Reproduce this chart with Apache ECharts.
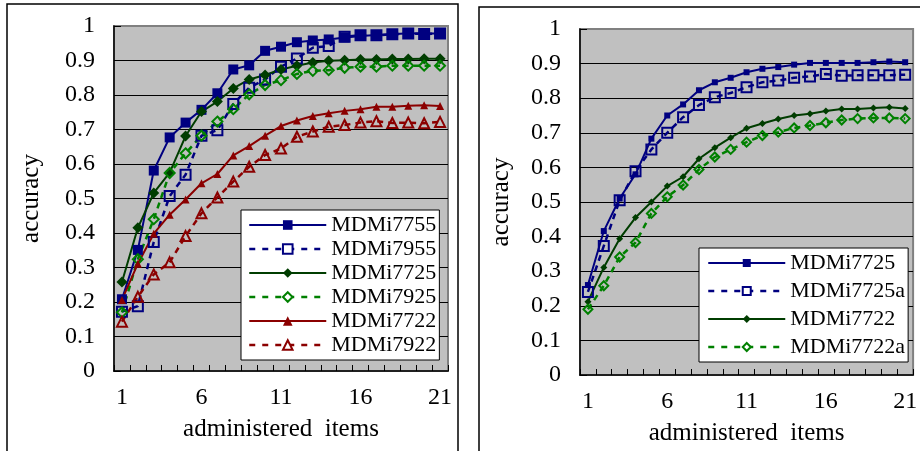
<!DOCTYPE html>
<html><head><meta charset="utf-8">
<script src="https://cdn.jsdelivr.net/npm/echarts@6/dist/echarts.min.js"></script>
<style>html,body{margin:0;padding:0;background:#fff}#c{width:920px;height:451px}</style>
</head><body><div id="c"></div>
<script>
const categories = ['1','2','3','4','5','6','7','8','9','10','11','12','13','14','15','16','17','18','19','20','21'];
const yTicks = [0,0.1,0.2,0.3,0.4,0.5,0.6,0.7,0.8,0.9,1];
// left panel
const m7755 = [0.208,0.351,0.581,0.677,0.720,0.757,0.805,0.874,0.886,0.928,0.940,0.953,0.958,0.961,0.967,0.971,0.974,0.976,0.979,0.978,0.978];
const m7955 = [0.172,0.188,0.374,0.507,0.569,0.682,0.698,0.774,0.821,0.845,0.882,0.906,0.937,0.942,0.969,0.973,0.973,0.976,0.978,0.977,0.978];
const m7725 = [0.258,0.415,0.516,0.575,0.681,0.752,0.781,0.819,0.845,0.858,0.874,0.885,0.894,0.899,0.901,0.903,0.903,0.904,0.904,0.905,0.905];
const m7925 = [0.170,0.324,0.440,0.574,0.631,0.682,0.723,0.759,0.802,0.829,0.843,0.861,0.870,0.872,0.879,0.882,0.882,0.885,0.885,0.885,0.885];
const m7722 = [0.206,0.311,0.398,0.453,0.497,0.544,0.571,0.625,0.652,0.682,0.710,0.726,0.739,0.747,0.754,0.759,0.766,0.766,0.769,0.770,0.768];
const m7922 = [0.143,0.215,0.280,0.315,0.391,0.457,0.503,0.549,0.592,0.626,0.645,0.679,0.694,0.708,0.713,0.720,0.724,0.719,0.720,0.718,0.722];
// right panel
const r7725 = [0.260,0.416,0.510,0.580,0.683,0.750,0.782,0.823,0.846,0.859,0.875,0.885,0.890,0.897,0.902,0.902,0.902,0.902,0.904,0.906,0.904];
const r7725a = [0.240,0.373,0.505,0.589,0.652,0.700,0.745,0.780,0.803,0.815,0.832,0.846,0.851,0.859,0.863,0.870,0.865,0.866,0.866,0.866,0.868];
const r7722 = [0.212,0.311,0.394,0.455,0.500,0.546,0.573,0.625,0.657,0.686,0.713,0.727,0.740,0.750,0.755,0.763,0.769,0.769,0.772,0.774,0.770];
const r7722a = [0.190,0.258,0.341,0.383,0.467,0.515,0.549,0.594,0.630,0.652,0.673,0.692,0.702,0.714,0.721,0.729,0.737,0.741,0.743,0.743,0.741];

const FONT = "'Liberation Serif','Times New Roman',serif";
const NAVY = '#000080', DGREEN = '#003d00', GREEN = '#008000', DRED = '#8b0000';

function mk(name, data, gi, color, symbol, size, hollow, dashed, lw) {
  return {
    name, type: 'line', xAxisIndex: gi, yAxisIndex: gi, data,
    symbol, symbolSize: size, showAllSymbol: true, animation: false,
    lineStyle: { color, width: lw, type: dashed ? [6, 5] : 'solid' },
    itemStyle: hollow ? { color: 'rgba(0,0,0,0)', borderColor: color, borderWidth: 2 } : { color, borderColor: color, borderWidth: 0 }
  };
}
function legItem(name, color, hollow, dashed) {
  return {
    name,
    itemStyle: hollow ? { color: '#fff', borderColor: color, borderWidth: 2 } : { color, borderColor: color, borderWidth: 0 },
    lineStyle: { color, width: dashed ? 2.5 : 2, type: dashed ? [6, 7] : 'solid' }
  };
}
const series = [
  mk('MDMi7755', m7755, 0, NAVY, 'rect', 10, false, false, 2),
  mk('MDMi7955', m7955, 0, NAVY, 'rect', 10, true, true, 2.5),
  mk('MDMi7725', m7725, 0, DGREEN, 'diamond', 11, false, false, 2),
  mk('MDMi7925', m7925, 0, GREEN, 'diamond', 10, true, true, 2.5),
  mk('MDMi7722', m7722, 0, DRED, 'triangle', 8, false, false, 2),
  mk('MDMi7922', m7922, 0, DRED, 'triangle', 10, true, true, 2.5),
  mk('R:MDMi7725', r7725, 1, NAVY, 'rect', 6, false, false, 2),
  mk('R:MDMi7725a', r7725a, 1, NAVY, 'rect', 10, true, true, 2.5),
  mk('R:MDMi7722', r7722, 1, DGREEN, 'diamond', 7, false, false, 2),
  mk('R:MDMi7722a', r7722a, 1, GREEN, 'diamond', 9, true, true, 2.5)
];
function xAx(gi) {
  return {
    type: 'category', gridIndex: gi, data: categories, boundaryGap: true,
    name: 'administered  items', nameLocation: 'middle', nameGap: 46,
    nameTextStyle: { fontFamily: FONT, fontSize: 25, color: '#000' },
    axisLine: { lineStyle: { color: '#000', width: 1.5 } },
    axisTick: { show: true, inside: true, length: 6, interval: 0, alignWithLabel: false, lineStyle: { color: '#000' } },
    axisLabel: { interval: 4, margin: 15, fontFamily: FONT, fontSize: 24, color: '#000' },
    splitLine: { show: false }
  };
}
function yAx(gi, gap) {
  return {
    type: 'value', gridIndex: gi, min: 0, max: 1, interval: 0.1,
    name: 'accuracy', nameLocation: 'middle', nameGap: gap,
    nameTextStyle: { fontFamily: FONT, fontSize: 25, color: '#000' },
    axisLine: { show: true, lineStyle: { color: '#000', width: 1.5 } },
    axisTick: { show: true, inside: true, length: 7, lineStyle: { color: '#000' } },
    axisLabel: { margin: 19, fontFamily: FONT, fontSize: 24, color: '#000',
      formatter: v => { const t = yTicks.find(x => Math.abs(x - v) < 1e-6); return String(t === undefined ? v : t); } },
    splitLine: { show: true, showMaxLine: false, showMinLine: false, lineStyle: { color: '#000', width: 1 } }
  };
}
const legCommon = {
  orient: 'vertical', backgroundColor: '#fff', borderColor: '#000', borderWidth: 1,
  itemWidth: 77, textStyle: { fontFamily: FONT, fontSize: 22, color: '#000' },
  selectedMode: false, formatter: n => n.replace(/^R:/, '')
};
const option = {
  backgroundColor: '#fff', animation: false,
  grid: [
    { left: 114, top: 26, width: 334, height: 345, show: true, backgroundColor: '#c0c0c0', borderColor: '#808080', borderWidth: 2 },
    { left: 580, top: 29, width: 340, height: 347, show: true, backgroundColor: '#c0c0c0', borderColor: '#808080', borderWidth: 2 }
  ],
  xAxis: [xAx(0), xAx(1)],
  yAxis: [yAx(0, 70), yAx(1, 66)],
  legend: [
    Object.assign({}, legCommon, {
      left: 241, top: 210, padding: [4, 3, 4, 7], itemHeight: 12, itemGap: 2,
      data: [
        legItem('MDMi7755', NAVY, false, false),
        legItem('MDMi7955', NAVY, true, true),
        legItem('MDMi7725', DGREEN, false, false),
        legItem('MDMi7925', GREEN, true, true),
        legItem('MDMi7722', DRED, false, false),
        legItem('MDMi7922', DRED, true, true)
      ]
    }),
    Object.assign({}, legCommon, {
      left: 699, top: 248, padding: [4, 3, 4, 8], itemHeight: 10, itemGap: 6,
      data: [
        legItem('R:MDMi7725', NAVY, false, false),
        legItem('R:MDMi7725a', NAVY, true, true),
        legItem('R:MDMi7722', DGREEN, false, false),
        legItem('R:MDMi7722a', GREEN, true, true)
      ]
    })
  ],
  graphic: [
    { type: 'rect', shape: { x: 7, y: 4, width: 451, height: 470 }, style: { fill: 'none', stroke: '#000', lineWidth: 1.5 }, z: 100 },
    { type: 'rect', shape: { x: 479, y: 7, width: 470, height: 470 }, style: { fill: 'none', stroke: '#000', lineWidth: 1.5 }, z: 100 }
  ],
  series
};
const chart = echarts.init(document.getElementById('c'), null, { renderer: 'canvas' });
chart.setOption(option);
</script></body></html>
